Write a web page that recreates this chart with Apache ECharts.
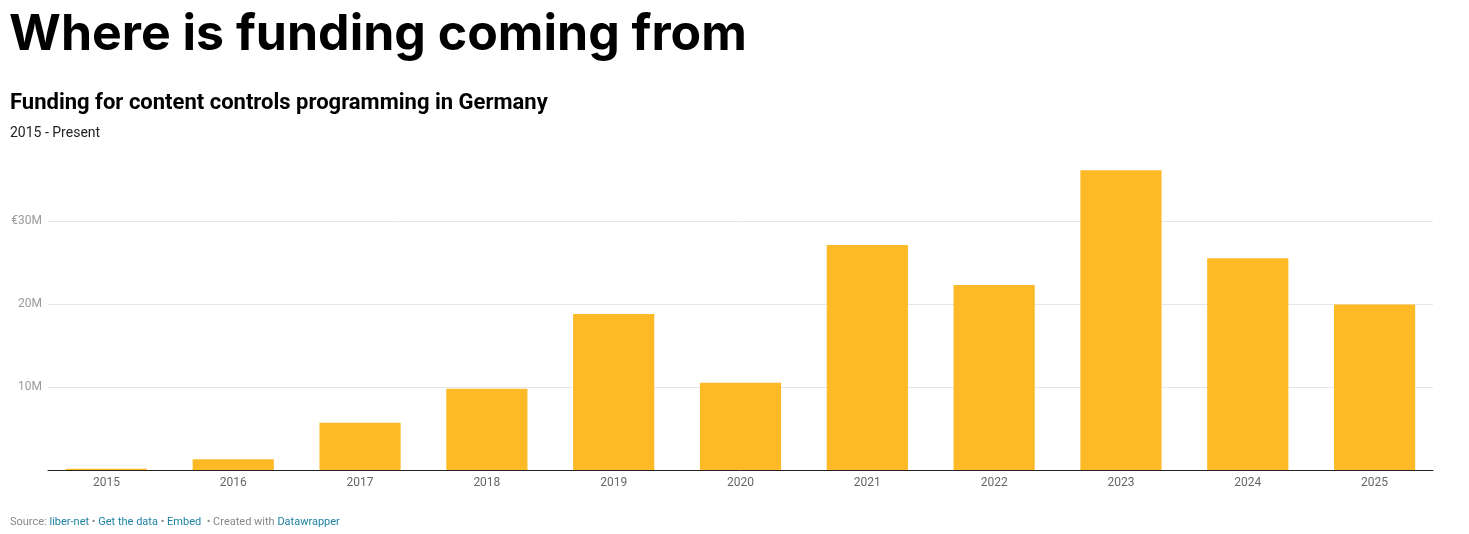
<!DOCTYPE html>
<html>
<head>
<meta charset="utf-8">
<script src="https://cdn.jsdelivr.net/npm/echarts@6/dist/echarts.min.js"></script>
<style>
html,body{margin:0;padding:0;background:#fff;}
#chart{width:1469px;height:534px;}
</style>
</head>
<body>
<div id="chart"></div>
<script>
const categories = ['2015','2016','2017','2018','2019','2020','2021','2022','2023','2024','2025'];
const funding = [0.15, 1.3, 5.7, 9.8, 18.8, 10.5, 27.1, 22.3, 36.1, 25.5, 19.95]; // € millions
const yTickLabels = {10: '10M', 20: '20M', 30: '€30M'};

const chart = echarts.init(document.getElementById('chart'));
const yMax = 40;
const option = {
  animation: false,
  backgroundColor: '#fff',
  title: [
    {text: 'Where is funding coming from', left: 9, top: 10, padding: 0,
     textStyle: {fontFamily: 'Inter', fontWeight: 'bold', fontSize: 50, color: '#000'}},
    {text: 'Funding for content controls programming in Germany', left: 10, top: 92, padding: 0,
     textStyle: {fontFamily: 'Roboto', fontWeight: 'bold', fontSize: 22, color: '#000'}},
    {text: '2015 - Present', left: 10, top: 126, padding: 0,
     textStyle: {fontFamily: 'Roboto', fontWeight: 'normal', fontSize: 14, color: '#222'}},
    {text: '{g|Source: }{b|liber-net}{g| • }{b|Get the data}{g| • }{b|Embed}{g|  • Created with }{b|Datawrapper}',
     left: 10, top: 517, padding: 0,
     textStyle: {rich: {
       g: {fontFamily: 'Roboto', fontWeight: 'normal', fontSize: 11, color: '#888'},
       b: {fontFamily: 'Roboto', fontWeight: 'normal', fontSize: 11, color: '#1d81a2'}
     }}}
  ],
  grid: [
    {left: 43, right: 31, top: 138, bottom: 64},
    {left: 48, right: 36, top: 138, bottom: 64}
  ],
  xAxis: [
    {type: 'category', gridIndex: 0, data: categories,
     axisLine: {show: false}, axisTick: {show: false},
     axisLabel: {margin: 7, fontFamily: 'Roboto', fontSize: 12, color: '#666'}},
    {type: 'value', gridIndex: 1, min: 0, max: 1,
     axisLine: {show: true, onZero: false, lineStyle: {color: '#222', width: 1}},
     axisTick: {show: false}, axisLabel: {show: false}, splitLine: {show: false}}
  ],
  yAxis: [
    {type: 'value', gridIndex: 0, min: 0, max: yMax, interval: 10,
     axisLine: {show: false}, axisTick: {show: false}, axisLabel: {show: false}, splitLine: {show: false}},
    {type: 'value', gridIndex: 1, min: 0, max: yMax, interval: 10,
     axisLine: {show: false}, axisTick: {show: false},
     axisLabel: {margin: 6, fontFamily: 'Roboto', fontSize: 12, color: '#9a9a9a',
       formatter: v => yTickLabels[v] || ''},
     splitLine: {show: true, lineStyle: {color: ['transparent', '#e6e6e6', '#e6e6e6', '#e6e6e6', 'transparent'], width: 1}}}
  ],
  series: [
    {type: 'bar', xAxisIndex: 0, yAxisIndex: 0, data: funding,
     barCategoryGap: '36%', itemStyle: {color: '#fdba26'}, z: 3}
  ]
};
chart.setOption(option);
</script>
</body>
</html>
